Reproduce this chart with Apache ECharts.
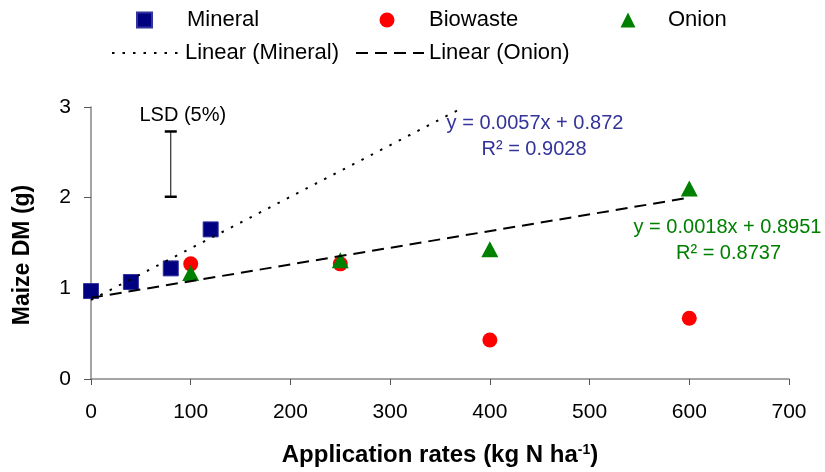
<!DOCTYPE html>
<html>
<head>
<meta charset="utf-8">
<script src="https://cdn.jsdelivr.net/npm/echarts@6/dist/echarts.min.js"></script>
<style>html,body{margin:0;padding:0;background:#fff}#c{width:825px;height:472px}</style>
</head>
<body>
<div id="c"></div>
<script>
// ---- data ----
const mineralX = [0, 40, 80, 120];
const mineralY = [0.97, 1.07, 1.22, 1.65];
const biowasteX = [100, 250, 400, 600];
const biowasteY = [1.27, 1.27, 0.43, 0.67];
const onionX = [100, 250, 400, 600];
const onionY = [1.17, 1.31, 1.43, 2.10];
// trend line end points as drawn in the reference
const mineralTrendX = [0, 367];
const mineralTrendY = [0.872, 2.96];
const onionTrendX = [0, 600];
const onionTrendY = [0.895, 2.0];
// LSD (5%) bar: x, low, high
const lsdBar = [80, 2.01, 2.73];
const lsdLabel = 'LSD (5%)';
const mineralEq = ['y = 0.0057x + 0.872', 'R\u00B2 = 0.9028'];
const onionEq = ['y = 0.0018x + 0.8951', 'R\u00B2 = 0.8737'];
const seriesNames = ['Mineral', 'Biowaste', 'Onion', 'Linear (Mineral)', 'Linear (Onion)'];
const xTitle = 'Application rates (kg N ha{sup|-1})';
const yTitle = 'Maize DM (g)';

const zip = (a, b) => a.map((v, i) => [v, b[i]]);
const FF = 'Liberation Sans, Arial, sans-serif';

const chart = echarts.init(document.getElementById('c'), null, {renderer: 'canvas'});

const legendText = {fontSize: 22, color: '#000', fontFamily: FF};
function symLegend(name, icon, left, w) {
  return {show: true, left: left, top: 9, padding: 0, itemWidth: w, itemHeight: 15,
    data: [{name: name, icon: icon}], textStyle: legendText, selectedMode: false};
}
function lineLegend(name, left) {
  return {show: true, left: left, top: 42, padding: 0, itemWidth: 68, itemHeight: 14,
    data: [{name: name, itemStyle: {opacity: 0}}], textStyle: legendText, selectedMode: false};
}

const option = {
  animation: false,
  backgroundColor: '#fff',
  legend: [
    symLegend(seriesNames[0], 'path://M0,0H10V10H0Z', 136, 75),
    symLegend(seriesNames[1], 'circle', 379.5, 74),
    symLegend(seriesNames[2], 'path://M5,0L10,10L0,10Z', 620.5, 70),
    lineLegend(seriesNames[3], 111),
    lineLegend(seriesNames[4], 355)
  ],
  grid: {left: 91, right: 36, top: 107, bottom: 90},
  xAxis: {
    type: 'value', min: 0, max: 700, interval: 100,
    splitLine: {show: false},
    axisLine: {onZero: false, lineStyle: {color: '#868686', width: 1.5}},
    axisTick: {show: true, length: 6, lineStyle: {color: '#555', width: 1}},
    axisLabel: {fontSize: 21, color: '#000', fontFamily: FF, margin: 23},
    name: xTitle, nameLocation: 'middle', nameGap: 64,
    nameTextStyle: {fontSize: 24, fontWeight: 'bold', color: '#000', fontFamily: FF,
      rich: {sup: {fontSize: 14, fontWeight: 'bold', fontFamily: FF, color: '#000', verticalAlign: 'top', lineHeight: 12}}}
  },
  yAxis: {
    type: 'value', min: 0, max: 3, interval: 1,
    splitLine: {show: false},
    axisLine: {show: true, onZero: false, lineStyle: {color: '#868686', width: 1.5}},
    axisTick: {show: true, length: 7, lineStyle: {color: '#555', width: 1}},
    axisLabel: {fontSize: 21, color: '#000', fontFamily: FF, margin: 20},
    name: yTitle, nameLocation: 'middle', nameGap: 57,
    nameTextStyle: {fontSize: 23, fontWeight: 'bold', color: '#000', fontFamily: FF, padding: [0, 24, 0, 0]}
  },
  series: [
    {name: seriesNames[0], type: 'scatter', symbol: 'rect', symbolSize: 15, z: 3,
      itemStyle: {color: '#000080', borderColor: '#3333a0', borderWidth: 1, opacity: 1},
      data: zip(mineralX, mineralY)},
    {name: seriesNames[1], type: 'scatter', symbol: 'circle', symbolSize: 15, z: 3,
      itemStyle: {color: '#ff0000', opacity: 1},
      data: zip(biowasteX, biowasteY)},
    {name: seriesNames[2], type: 'scatter', symbol: 'triangle', symbolSize: [17, 16], z: 4,
      itemStyle: {color: '#008000', opacity: 1},
      data: zip(onionX, onionY)},
    {name: seriesNames[3], type: 'line', symbol: 'none', z: 5, silent: true,
      lineStyle: {color: '#000', width: 2, type: [2.5, 8]},
      itemStyle: {color: '#000'},
      data: zip(mineralTrendX, mineralTrendY)},
    {name: seriesNames[4], type: 'line', symbol: 'none', z: 5, silent: true,
      lineStyle: {color: '#000', width: 2, type: [12, 7]},
      itemStyle: {color: '#000'},
      data: zip(onionTrendX, onionTrendY)},
    {name: 'LSD', type: 'custom', z: 6, silent: true,
      encode: {x: 0, y: [1, 2]},
      data: [lsdBar],
      renderItem: function (params, api) {
        const x = api.value(0), lo = api.value(1), hi = api.value(2);
        const p1 = api.coord([x, lo]), p2 = api.coord([x, hi]);
        return {type: 'group', children: [
          {type: 'line', shape: {x1: p1[0], y1: p1[1], x2: p2[0], y2: p2[1]}, style: {stroke: '#000', lineWidth: 1}},
          {type: 'line', shape: {x1: p1[0] - 6, y1: p1[1], x2: p1[0] + 6, y2: p1[1]}, style: {stroke: '#000', lineWidth: 2.5}},
          {type: 'line', shape: {x1: p2[0] - 6, y1: p2[1], x2: p2[0] + 6, y2: p2[1]}, style: {stroke: '#000', lineWidth: 2.5}},
          {type: 'text', x: p2[0] + 12, y: p2[1] - 16,
            style: {text: lsdLabel, fill: '#000', font: '20px ' + FF, align: 'center', verticalAlign: 'middle'}}
        ]};
      }}
  ],
  graphic: [
    {type: 'text', x: 535, y: 123.5, silent: true,
      style: {text: mineralEq[0], fill: '#333399', font: '20px ' + FF, align: 'center', verticalAlign: 'middle'}},
    {type: 'text', x: 534, y: 149, silent: true,
      style: {text: mineralEq[1], fill: '#333399', font: '20px ' + FF, align: 'center', verticalAlign: 'middle'}},
    {type: 'text', x: 727.5, y: 227, silent: true,
      style: {text: onionEq[0], fill: '#008000', font: '20px ' + FF, align: 'center', verticalAlign: 'middle'}},
    {type: 'text', x: 728.5, y: 253, silent: true,
      style: {text: onionEq[1], fill: '#008000', font: '20px ' + FF, align: 'center', verticalAlign: 'middle'}}
  ]
};
chart.setOption(option);
</script>
</body>
</html>
